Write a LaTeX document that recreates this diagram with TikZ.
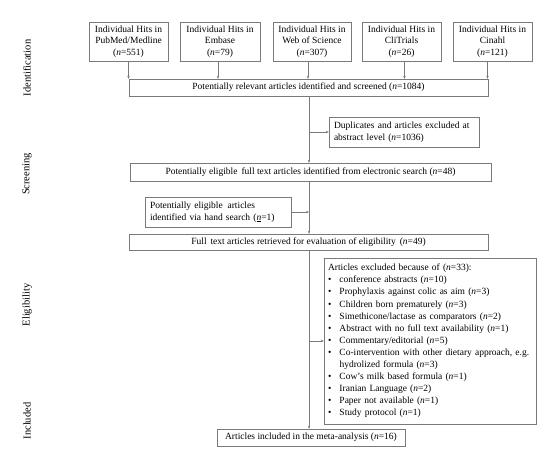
\documentclass[tikz,border=0pt]{standalone}
\usepackage{fontspec}
\setmainfont{Liberation Serif}
\usetikzlibrary{arrows.meta}
\definecolor{linegray}{HTML}{7A7A7A}
\newcommand{\nn}[1]{(\textit{n}=#1)}
\newcommand{\bul}{\makebox[11.5pt][l]{\textbullet}}

\begin{document}
\begin{tikzpicture}[x=1pt,y=-1pt,
    font=\fontsize{9.5}{11.5}\selectfont,
    box/.style={draw=linegray,inner sep=2pt,align=center},
    arr/.style={draw=linegray,-{Stealth[length=3pt,width=2.4pt]}},
    phase/.style={rotate=90}]
  \useasboundingbox (0,0) rectangle (550,451);

  % database hits
  \node[box,minimum width=79pt,minimum height=39pt] (hitsA) at (128.5,41.5) {Individual Hits in\\PubMed/Medline\\\nn{551}};
  \node[box,minimum width=80pt,minimum height=39pt] (hitsB) at (220,41.5) {Individual Hits in\\Embase\\\nn{79}};
  \node[box,minimum width=78pt,minimum height=39pt] (hitsC) at (312,41.5) {Individual Hits in\\Web of Science\\\nn{307}};
  \node[box,minimum width=79pt,minimum height=39pt] (hitsD) at (401.5,41.5) {Individual Hits in\\CliTrials\\\nn{26}};
  \node[box,minimum width=79pt,minimum height=39pt] (hitsE) at (492.5,41.5) {Individual Hits in\\Cinahl\\\nn{121}};

  % main flow
  \node[box,minimum width=359pt,minimum height=17pt] (relevant) at (308.5,87.5) {Potentially relevant articles identified and screened \nn{1084}};
  \node[box,minimum width=150pt,minimum height=30pt,align=left,text width=140pt] (dup) at (404,132) {Duplicates and articles excluded at\\abstract level \nn{1036}};
  \node[box,minimum width=361pt,minimum height=18pt] (eligible) at (310.5,172) {Potentially eligible\, full text articles identified from electronic search \nn{48}};
  \node[box,minimum width=146pt,minimum height=30pt,align=left,text width=136pt] (hand) at (218,212) {Potentially eligible\, articles\\identified via hand search (\underline{\textit{n}}=1)};
  \node[box,minimum width=359pt,minimum height=16pt] (retrieved) at (308.5,242) {Full\, text articles retrieved for evaluation of eligibility\, \nn{49}};
  \node[box,minimum width=212pt,minimum height=166pt,align=left,text width=204pt,
        font=\fontsize{9.5}{12.1}\selectfont] (excluded) at (430,341) {Articles excluded because of \nn{33}:\\
    \bul conference abstracts \nn{10}\\
    \bul Prophylaxis against colic as aim \nn{3}\\
    \bul Children born prematurely \nn{3}\\
    \bul Simethicone/lactase as comparators \nn{2}\\
    \bul Abstract with no full text availability \nn{1}\\
    \bul Commentary/editorial \nn{5}\\
    \bul Co-intervention with other dietary approach, e.g.\\
    \hspace*{11.5pt}hydrolized formula \nn{3}\\
    \bul Cow's milk based formula \nn{1}\\
    \bul Iranian Language \nn{2}\\
    \bul Paper not available \nn{1}\\
    \bul Study protocol \nn{1}};
  \node[box,minimum width=188pt,minimum height=17pt] (included) at (311,437.5) {Articles included in the meta-analysis \nn{16}};

  % phase labels
  \node[phase,font=\fontsize{10.5}{12}\selectfont] (labIdent) at (27,68) {Identification};
  \node[phase,font=\fontsize{10.5}{12}\selectfont] (labScreen) at (27,174) {Screening};
  \node[phase,font=\fontsize{10.5}{12}\selectfont] (labElig) at (27,305) {Eligibility};
  \node[phase,font=\fontsize{10.5}{12}\selectfont] (labIncl) at (27,421) {Included};

  % arrows
  \coordinate (spine) at (309,0);
  \foreach \n/\dx in {hitsA/0,hitsB/-2,hitsC/-4,hitsD/3,hitsE/-5}
    \draw[arr] ([xshift=\dx pt]\n.south) -- ([xshift=\dx pt]\n.south |- relevant.north);
  \draw[arr] (relevant.south -| spine) -- (eligible.north -| spine);
  \draw[arr] (spine |- dup.west) -- (dup.west);
  \draw[arr] (eligible.south -| spine) -- (retrieved.north -| spine);
  \draw[arr] (hand.east) -- (spine |- hand.east);
  \draw[arr] (retrieved.south -| spine) -- (included.north -| spine);
  \draw[arr] (spine |- excluded.west) -- (excluded.west);
\end{tikzpicture}
\end{document}
